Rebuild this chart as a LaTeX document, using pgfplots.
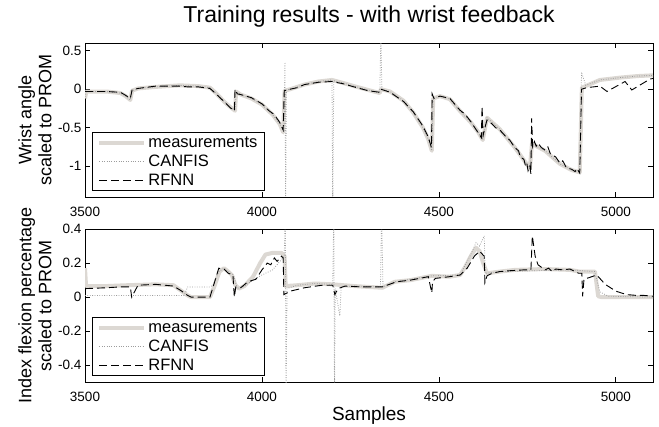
\documentclass[border=0pt]{standalone}
\usepackage{fontspec}
\setmainfont{Liberation Sans}
\usepackage{pgfplots}
\pgfplotsset{compat=1.18}
\definecolor{measgray}{HTML}{DCD8D3}
\definecolor{canfgray}{HTML}{9C9C9C}

\pgfplotsset{
  panel/.style={
    scale only axis,
    width=568pt,
    xmin=3500, xmax=5105,
    xtick={3500,4000,4500,5000},
    tick align=inside,
    major tick length=5pt,
    axis line style={line width=0.8pt},
    tick style={line width=0.7pt, black},
    tick label style={font=\fontsize{13.5}{16}\selectfont},
    xticklabel style={anchor=base, yshift=-19.4pt},
    scaled ticks=false,
    /pgf/number format/assume math mode=true,
    /pgf/number format/1000 sep={},
    every axis y label/.style={at={(0,0.5)}, anchor=center, xshift=-50pt, rotate=90,
      align=center, font=\fontsize{18}{20}\selectfont},
    legend cell align=left,
    legend image code/.code={\draw[#1] (0pt,0pt) -- (45pt,0pt);},
    legend style={anchor=south west, draw=black, line width=0.8pt, fill=white,
      font=\fontsize{16.5}{18}\selectfont, inner xsep=5pt, inner ysep=2pt,
      nodes={inner sep=2pt}, row sep=2pt},
  },
  measline/.style={measgray, line width=4pt, line join=round},
  canfline/.style={canfgray, line width=0.8pt, dash pattern=on 0.8pt off 1.6pt},
  rfnnline/.style={black, line width=0.9pt, dash pattern=on 8pt off 4pt},
}

\begin{document}
\begin{tikzpicture}
\useasboundingbox (0,0) rectangle (659pt,427pt);

% ---- top panel: wrist angle ----
\begin{axis}[
  panel,
  at={(85pt,230pt)}, anchor=south west,
  height=154pt,
  ymin=-1.4, ymax=0.6,
  ytick={-1,-0.5,0,0.5},
  title={Training results - with wrist feedback},
  title style={at={(0.5,1)}, anchor=south, yshift=6pt, font=\fontsize{23}{25}\selectfont},
  ylabel={Wrist angle\\scaled to PROM},
  legend style={at={(0.0123,0.039)}},
]
\addplot[measline] coordinates {
  (3500,-0.12) (3504,-0.03) (3560,-0.03) (3600,-0.05) (3615,-0.09) (3628,-0.14)
  (3633,-0.02) (3650,0.01) (3700,0.03) (3768,0.05) (3820,0.04) (3853,0.02)
  (3870,-0.05) (3895,-0.17) (3910,-0.23) (3924,-0.28) (3927,-0.03) (3940,-0.07)
  (3970,-0.12) (4000,-0.20) (4030,-0.33) (4050,-0.45) (4060,-0.56) (4064,-0.02)
  (4080,0.00) (4120,0.06) (4160,0.10) (4198,0.12) (4230,0.08) (4260,0.04)
  (4300,-0.01) (4333,-0.05) (4336,0.00) (4362,-0.03) (4400,-0.15) (4427,-0.30)
  (4455,-0.50) (4470,-0.65) (4480,-0.80) (4484,-0.12) (4503,-0.09) (4531,-0.13)
  (4559,-0.28) (4590,-0.43) (4610,-0.55) (4624,-0.66) (4636,-0.37) (4672,-0.52)
  (4715,-0.76) (4740,-0.92) (4757,-1.03) (4763,-0.71) (4800,-0.80) (4842,-0.97)
  (4875,-1.05) (4898,-1.08) (4904,0.02) (4955,0.12) (5011,0.15) (5060,0.17) (5105,0.18)
};
\addlegendentry{measurements}
\addplot[canfline] coordinates {
  (3500,-0.10) (3504,-0.03) (3560,-0.03) (3600,-0.05) (3615,-0.09) (3628,-0.14)
  (3633,-0.02) (3650,0.01) (3700,0.03) (3768,0.05) (3820,0.04) (3853,0.02)
  (3870,-0.05) (3895,-0.17) (3910,-0.23) (3924,-0.28) (3927,-0.03) (3940,-0.07)
  (3970,-0.12) (4000,-0.20) (4030,-0.33) (4050,-0.45) (4062,-0.56) (4065,0.35)
  (4067,-1.60) (4069,-0.01) (4080,0.00) (4120,0.06) (4160,0.10) (4198,0.12)
  (4200,-1.60) (4203,0.11) (4230,0.08) (4260,0.04) (4300,-0.01) (4333,-0.05)
  (4336,0.70) (4339,0.00) (4362,-0.03) (4400,-0.15) (4427,-0.30) (4455,-0.50)
  (4470,-0.65) (4480,-0.80) (4484,-0.12) (4503,-0.09) (4531,-0.13) (4559,-0.28)
  (4590,-0.43) (4610,-0.55) (4624,-0.66) (4636,-0.37) (4672,-0.52) (4715,-0.76)
  (4740,-0.92) (4757,-1.03) (4763,-0.71) (4800,-0.80) (4842,-0.97) (4875,-1.05)
  (4898,-1.08) (4903,0.22) (4915,0.05) (4955,0.12) (5011,0.15) (5060,0.17) (5105,0.18)
};
\addlegendentry{CANFIS}
\addplot[rfnnline] coordinates {
  (3500,-0.03) (3560,-0.03) (3600,-0.04) (3615,-0.08) (3628,-0.12) (3633,-0.01)
  (3650,0.01) (3700,0.04) (3768,0.04) (3790,0.03) (3820,0.03) (3853,0.01)
  (3870,-0.06) (3895,-0.17) (3910,-0.24) (3922,-0.28) (3924,0.00) (3930,-0.06)
  (3940,-0.07) (3970,-0.11) (4000,-0.19) (4020,-0.28) (4035,-0.33) (4050,-0.43)
  (4060,-0.53) (4063,-0.02) (4080,0.00) (4100,0.02) (4120,0.06) (4160,0.09)
  (4198,0.10) (4230,0.07) (4260,0.03) (4300,-0.02) (4333,-0.04) (4336,0.00)
  (4362,-0.04) (4400,-0.16) (4427,-0.29) (4455,-0.48) (4470,-0.62) (4479,-0.76)
  (4481,-0.06) (4486,-0.12) (4503,-0.09) (4531,-0.12) (4559,-0.27) (4575,-0.33)
  (4590,-0.42) (4610,-0.56) (4620,-0.63) (4622,-0.22) (4625,-0.60) (4630,-0.50)
  (4636,-0.40) (4650,-0.45) (4660,-0.50) (4672,-0.53) (4690,-0.62) (4700,-0.66)
  (4715,-0.76) (4725,-0.80) (4730,-0.88) (4740,-0.91) (4744,-0.98) (4748,-0.95)
  (4752,-1.06) (4757,-1.00) (4760,-1.10) (4762,-0.38) (4765,-0.75) (4770,-0.68)
  (4775,-0.74) (4780,-0.70) (4790,-0.76) (4800,-0.79) (4808,-0.75) (4815,-0.84)
  (4830,-0.88) (4842,-0.96) (4850,-0.93) (4860,-1.02) (4875,-1.04) (4885,-1.07)
  (4890,-1.03) (4898,-1.09) (4903,0.00) (4918,0.02) (4955,0.04) (4975,-0.03)
  (5026,0.10) (5045,-0.01) (5096,0.13) (5105,0.14)
};
\addlegendentry{RFNN}
\end{axis}

% ---- bottom panel: index flexion ----
\begin{axis}[
  panel,
  at={(85pt,44.7pt)}, anchor=south west,
  height=153.3pt,
  ymin=-0.5, ymax=0.4,
  ytick={-0.4,-0.2,0,0.2,0.4},
  ylabel={Index flexion percentage\\scaled to PROM},
  xlabel={Samples},
  xlabel style={at={(0.5,0)}, anchor=base, yshift=-38pt, font=\fontsize{19}{21}\selectfont},
  legend style={at={(0.0123,0.041)}},
]
\addplot[measline] coordinates {
  (3500,0.17) (3503,0.065) (3560,0.065) (3620,0.07) (3700,0.075) (3750,0.07)
  (3770,0.04) (3790,0.01) (3800,0.00) (3853,0.00) (3865,0.06) (3880,0.15)
  (3893,0.17) (3905,0.15) (3915,0.13) (3925,0.07) (3935,0.05) (3950,0.065)
  (3975,0.12) (3995,0.20) (4010,0.25) (4030,0.26) (4055,0.26) (4064,0.24)
  (4067,0.065) (4100,0.07) (4150,0.08) (4200,0.075) (4260,0.065) (4340,0.055)
  (4375,0.09) (4420,0.10) (4480,0.125) (4530,0.12) (4560,0.13) (4575,0.18)
  (4590,0.24) (4605,0.29) (4615,0.27) (4625,0.20) (4636,0.14) (4672,0.15)
  (4715,0.16) (4800,0.165) (4870,0.16) (4898,0.15) (4941,0.15) (4950,0.005)
  (4960,0.00) (5105,0.00)
};
\addlegendentry{measurements}
\addplot[canfline] coordinates {
  (3500,0.01) (3620,0.01) (3780,0.01) (3790,0.06) (3853,0.06) (3862,0.07)
  (3878,0.15) (3893,0.17) (3905,0.15) (3920,0.13) (3930,0.05) (3950,0.065)
  (3975,0.10) (4000,0.13) (4030,0.16) (4055,0.22) (4063,0.24) (4066,0.50)
  (4068,-0.60) (4071,0.05) (4100,0.07) (4150,0.08) (4200,0.075) (4203,0.50)
  (4205,-0.60) (4207,0.05) (4220,-0.11) (4224,0.06) (4260,0.065) (4335,0.06)
  (4338,0.50) (4342,0.06) (4375,0.09) (4480,0.125) (4560,0.13) (4590,0.25)
  (4605,0.32) (4615,0.30) (4628,0.36) (4631,0.14) (4672,0.15) (4870,0.16)
  (4940,0.15) (4955,0.03) (4980,0.005) (5105,0.00)
};
\addlegendentry{CANFIS}
\addplot[rfnnline] coordinates {
  (3500,0.05) (3560,0.055) (3600,0.06) (3628,0.06) (3632,0.00) (3642,0.04)
  (3650,0.07) (3700,0.075) (3750,0.065) (3770,0.04) (3790,0.01) (3800,0.00)
  (3853,0.00) (3862,0.06) (3878,0.17) (3893,0.165) (3905,0.14) (3918,0.13)
  (3922,0.00) (3926,0.06) (3940,0.055) (3960,0.09) (3983,0.105) (4000,0.16)
  (4015,0.20) (4025,0.19) (4035,0.23) (4043,0.21) (4055,0.24) (4060,0.23)
  (4062,0.015) (4080,0.035) (4120,0.055) (4170,0.07) (4200,0.07) (4206,0.015)
  (4215,0.05) (4235,0.065) (4280,0.06) (4340,0.06) (4380,0.09) (4420,0.10)
  (4470,0.12) (4480,0.025) (4482,0.09) (4490,0.11) (4530,0.12) (4560,0.13)
  (4580,0.17) (4600,0.24) (4615,0.27) (4628,0.24) (4630,0.085) (4636,0.125)
  (4650,0.14) (4672,0.15) (4700,0.155) (4740,0.16) (4760,0.16) (4764,0.36)
  (4772,0.24) (4780,0.19) (4800,0.16) (4810,0.17) (4820,0.15) (4830,0.165)
  (4850,0.16) (4870,0.165) (4895,0.14) (4904,0.14) (4906,0.005) (4910,0.105)
  (4925,0.115) (4946,0.13) (4970,0.075) (5000,0.035) (5030,0.015) (5060,0.01)
  (5080,0.01) (5105,0.005)
};
\addlegendentry{RFNN}
\end{axis}

\end{tikzpicture}
\end{document}
